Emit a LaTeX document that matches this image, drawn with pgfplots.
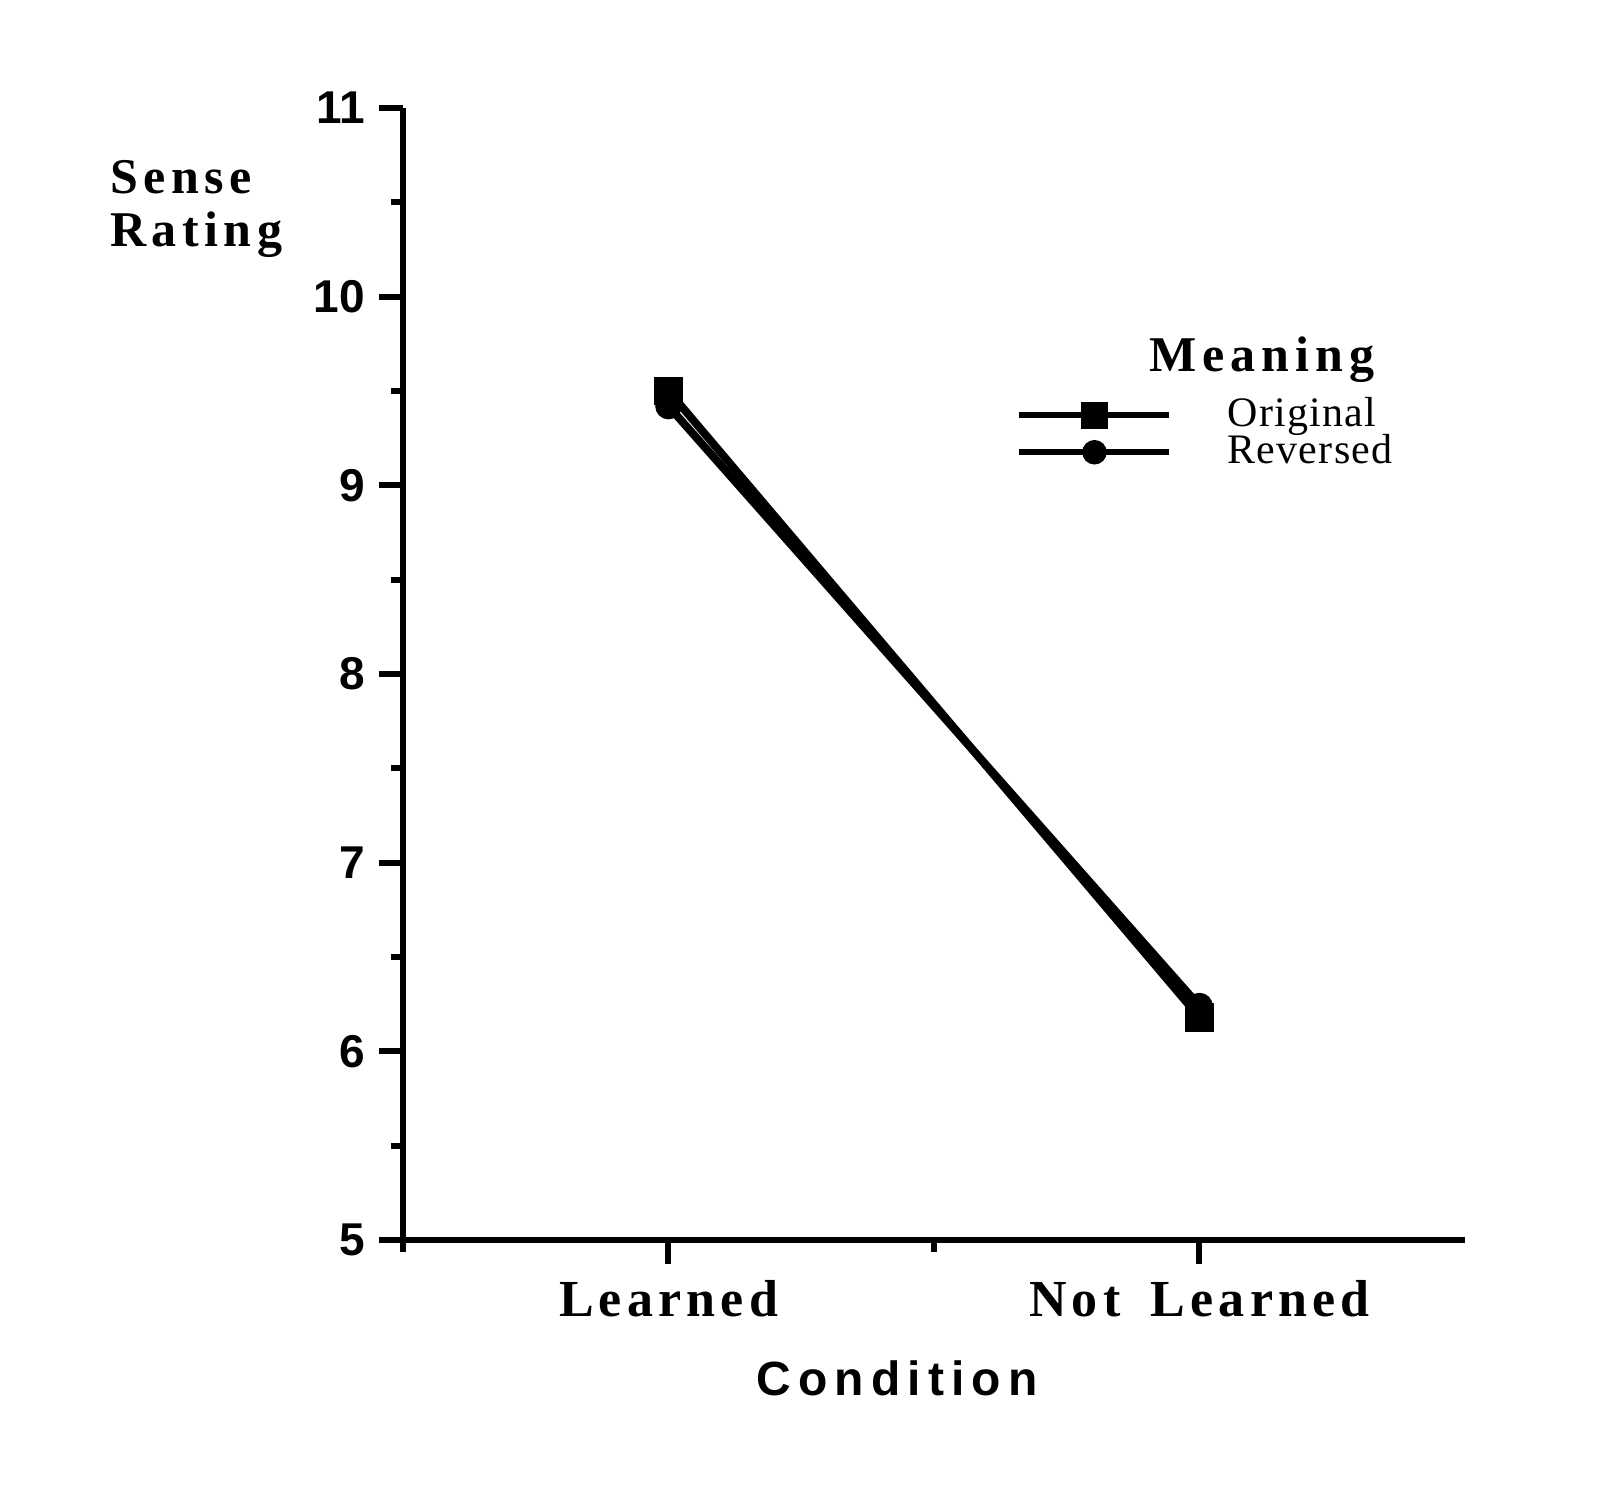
\documentclass[border=0pt]{standalone}
\usepackage{fontspec}
\setmainfont{Liberation Serif}
\setsansfont{Liberation Sans}
\usepackage{pgfplots}
\pgfplotsset{compat=1.18}

\begin{document}
\begin{tikzpicture}
% page: 1600x1493 px at 0.25pt per px
\useasboundingbox (0,0) rectangle (400pt,373.25pt);
\begin{axis}[
	at={(100.75pt,63.25pt)}, anchor=south west,
	scale only axis,
	width=265.5pt, height=283pt,
	xmin=0, xmax=4, ymin=5, ymax=11,
	axis lines=left,
	axis line style={line width=1.5pt, -},
	xtick={1,3},
	xticklabels={Learned, Not\hspace{3pt} Learned},
	minor xtick={0,2},
	ytick={5,6,7,8,9,10,11},
	minor ytick={5.5,6.5,7.5,8.5,9.5,10.5},
	tick align=outside,
	major tick length=6pt,
	minor tick length=3pt,
	every tick/.style={black, line width=1.5pt},
	/pgf/number format/assume math mode=true,
	yticklabel style={font=\sffamily\bfseries\fontsize{11.5}{11.5}\selectfont, xshift=0pt},
	xticklabel style={font=\bfseries\fontsize{13}{13}\selectfont\addfontfeatures{LetterSpace=10}, yshift=-0.5pt},
	clip=false,
	legend style={draw=none, fill=none, at={(0.576,0.752)}, anchor=north west,
		inner sep=0pt, row sep=-3.5pt, column sep=12pt,
		font=\fontsize{10.5}{10.5}\selectfont\addfontfeatures{LetterSpace=3}},
	legend cell align=left,
	legend image code/.code={
		\draw[mark repeat=2, mark phase=2, #1, line width=1.5pt]
			plot coordinates {(0pt,0pt) (19pt,0pt) (37.5pt,0pt)};
	},
]
\addplot[black, line width=2pt, mark=square*, mark size=2.6pt, mark options={solid}]
	coordinates {(1,9.50) (3,6.18)};
\addlegendentry{Original}
\addplot[black, line width=2pt, mark=*, mark size=2.3pt, mark options={solid}]
	coordinates {(1,9.42) (3,6.24)};
\addlegendentry{Reversed}
\end{axis}
\node[anchor=west, align=left, font=\bfseries\fontsize{12.5}{13.25}\selectfont\addfontfeatures{LetterSpace=11}]
	at (24pt,321pt) {Sense\\Rating};
\node[font=\bfseries\fontsize{12.5}{12.5}\selectfont\addfontfeatures{LetterSpace=12}]
	at (315.5pt,283.25pt) {Meaning};
\node[font=\sffamily\bfseries\fontsize{12}{12}\selectfont\addfontfeatures{LetterSpace=15}]
	at (224.25pt,28.75pt) {Condition};
\end{tikzpicture}
\end{document}
